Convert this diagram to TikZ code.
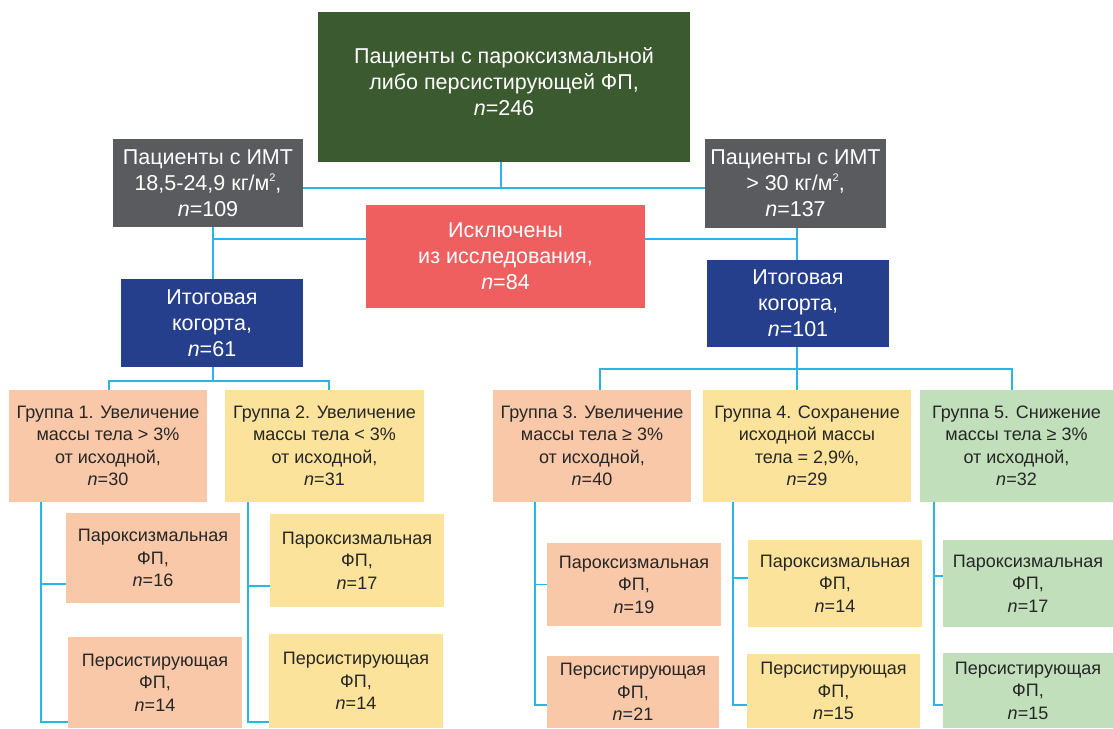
\documentclass[tikz,border=0pt]{standalone}
\usepackage{fontspec}
\setmainfont{Liberation Sans}
\usepackage{tikz}

\definecolor{topgreen}{HTML}{3C5A30}
\definecolor{bmigrey}{HTML}{5A5B5F}
\definecolor{exclred}{HTML}{EF5F5F}
\definecolor{cohortblue}{HTML}{263F8C}
\definecolor{gainpeach}{HTML}{F8C8A8}
\definecolor{keepyellow}{HTML}{FBE39B}
\definecolor{losegreen}{HTML}{C1DFBA}
\definecolor{linkblue}{HTML}{29B5E8}
\definecolor{darktext}{HTML}{262626}

\newcommand{\sqm}{м\raisebox{0.8ex}{\fontsize{11}{11}\selectfont 2}}

\tikzset{
  box/.style={inner sep=0pt, align=center, text=white,
    font=\fontsize{21.5}{26}\selectfont},
  sub/.style={inner sep=0pt, align=center, text=darktext,
    font=\fontsize{18}{22.5}\selectfont},
  link/.style={draw=linkblue, line width=1.5pt}
}

\begin{document}
\begin{tikzpicture}[x=1pt,y=-1pt]
\useasboundingbox (0,0) rectangle (1113,728);

\node[box, fill=topgreen, minimum width=372pt, minimum height=150pt, text depth=10pt] (pat) at (504,87)
  {Пациенты с пароксизмальной\\либо персистирующей ФП,\\\textit{n}=246};
\node[box, fill=bmigrey, minimum width=190pt, minimum height=88pt] (bmiL) at (208,183)
  {Пациенты с ИМТ\\18,5-24,9 кг/\sqm,\\\textit{n}=109};
\node[box, fill=bmigrey, minimum width=181pt, minimum height=89pt] (bmiR) at (795.5,183.5)
  {Пациенты с ИМТ\\> 30 кг/\sqm,\\\textit{n}=137};
\node[box, fill=exclred, minimum width=279pt, minimum height=103pt] (excl) at (505.5,256.5)
  {Исключены\\из исследования,\\\textit{n}=84};
\node[box, fill=cohortblue, minimum width=182pt, minimum height=88pt] (cohL) at (212,323)
  {Итоговая\\когорта,\\\textit{n}=61};
\node[box, fill=cohortblue, minimum width=182pt, minimum height=87pt] (cohR) at (798,303.5)
  {Итоговая\\когорта,\\\textit{n}=101};

\node[sub, fill=gainpeach, minimum width=198pt, minimum height=112pt] (g1) at (108,446)
  {Группа 1. Увеличение\\массы тела > 3\%\\от исходной,\\\textit{n}=30};
\node[sub, fill=keepyellow, minimum width=199pt, minimum height=112pt] (g2) at (324.5,446)
  {Группа 2. Увеличение\\массы тела < 3\%\\от исходной,\\\textit{n}=31};
\node[sub, fill=gainpeach, minimum width=198pt, minimum height=112pt] (g3) at (592,446)
  {Группа 3. Увеличение\\массы тела ≥ 3\%\\от исходной,\\\textit{n}=40};
\node[sub, fill=keepyellow, minimum width=208pt, minimum height=112pt] (g4) at (807,446)
  {Группа 4. Сохранение\\исходной массы\\тела = 2,9\%,\\\textit{n}=29};
\node[sub, fill=losegreen, minimum width=193pt, minimum height=112pt] (g5) at (1016.5,446)
  {Группа 5. Снижение\\массы тела ≥ 3\%\\от исходной,\\\textit{n}=32};

\node[sub, fill=gainpeach, minimum width=174pt, minimum height=90pt] (p1) at (153,558)
  {Пароксизмальная\\ФП,\\\textit{n}=16};
\node[sub, fill=gainpeach, minimum width=174pt, minimum height=91pt] (q1) at (155,682.5)
  {Персистирующая\\ФП,\\\textit{n}=14};
\node[sub, fill=keepyellow, minimum width=174pt, minimum height=93pt] (p2) at (357,560.5)
  {Пароксизмальная\\ФП,\\\textit{n}=17};
\node[sub, fill=keepyellow, minimum width=174pt, minimum height=94pt] (q2) at (356,681)
  {Персистирующая\\ФП,\\\textit{n}=14};
\node[sub, fill=gainpeach, minimum width=174pt, minimum height=83pt] (p3) at (634,584.5)
  {Пароксизмальная\\ФП,\\\textit{n}=19};
\node[sub, fill=gainpeach, minimum width=172pt, minimum height=72pt] (q3) at (633,692)
  {Персистирующая\\ФП,\\\textit{n}=21};
\node[sub, fill=keepyellow, minimum width=174pt, minimum height=87pt] (p4) at (835,583.5)
  {Пароксизмальная\\ФП,\\\textit{n}=14};
\node[sub, fill=keepyellow, minimum width=173pt, minimum height=74pt] (q4) at (833.5,691)
  {Персистирующая\\ФП,\\\textit{n}=15};
\node[sub, fill=losegreen, minimum width=170pt, minimum height=87pt] (p5) at (1028,583.5)
  {Пароксизмальная\\ФП,\\\textit{n}=17};
\node[sub, fill=losegreen, minimum width=170pt, minimum height=75pt] (q5) at (1028,690.5)
  {Персистирующая\\ФП,\\\textit{n}=15};

\coordinate (hub) at (501,188);
\coordinate (exL) at (213,239);
\coordinate (exR) at (797,239);
\coordinate (busL) at (213,381);
\coordinate (busR) at (797,369);
\coordinate (t1) at (41,722);
\coordinate (t2) at (248,722);
\coordinate (t3) at (535,705);
\coordinate (t4) at (733,705);
\coordinate (t5) at (934,705);

\draw[link]
(pat.south -| hub) -- (hub)
(bmiL.east |- hub) -- (bmiR.west |- hub)
(bmiL.south -| exL) -- (cohL.north -| exL)
(exL) -- (excl.west |- exL)
(excl.east |- exR) -- (exR)
(bmiR.south -| exR) -- (cohR.north -| exR)
(cohL.south -| busL) -- (busL)
([xshift=1pt]g1.north) |- (busL) -| ([xshift=4.5pt]g2.north)
(cohR.south -| busR) -- (g4.north -| busR)
([xshift=8pt]g3.north) |- (busR) -| ([xshift=-4.5pt]g5.north)
(g1.south -| t1) |- (q1.west |- t1)
(t1 |- 0,584) -- (p1.west |- 0,584)
(g2.south -| t2) |- (q2.west |- t2)
(t2 |- 0,586) -- (p2.west |- 0,586)
(g3.south -| t3) |- (q3.west |- t3)
(t3 |- p3.west) -- (p3.west)
(g4.south -| t4) |- (q4.west |- t4)
(t4 |- 0,578) -- (p4.west |- 0,578)
(g5.south -| t5) |- (q5.west |- t5)
(t5 |- 0,576) -- (p5.west |- 0,576);
\end{tikzpicture}
\end{document}
